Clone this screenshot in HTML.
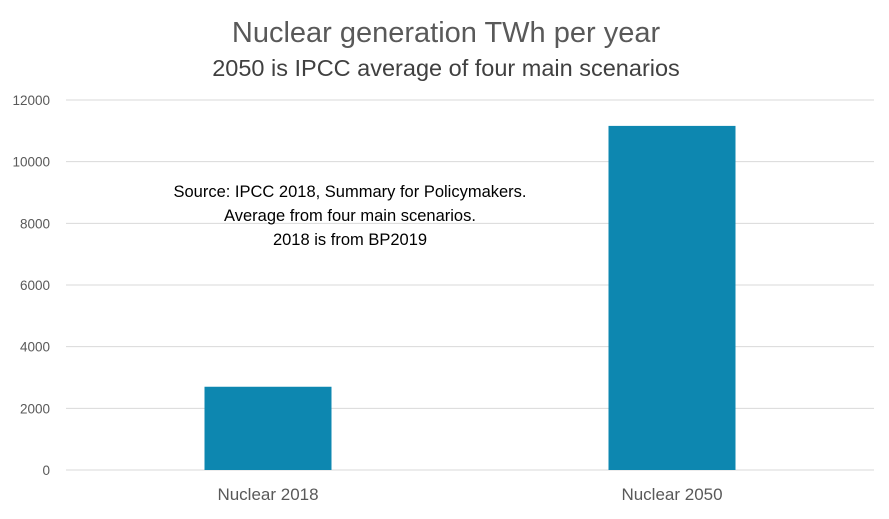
<!DOCTYPE html>
<html><head><meta charset="utf-8"><style>
body{margin:0;background:#fff;font-family:"Liberation Sans",sans-serif;}
svg text{font-family:"Liberation Sans",sans-serif;}
</style></head><body>
<svg width="889" height="514" viewBox="0 0 889 514">
<rect width="889" height="514" fill="#fff"/>
<text x="446" y="42" text-anchor="middle" font-size="29" fill="#595959">Nuclear generation TWh per year</text>
<text x="446" y="76" text-anchor="middle" font-size="23.5" fill="#404040">2050 is IPCC average of four main scenarios</text>
<g id="grid"></g><g id="bars"></g><g id="xlabels"></g>
<text x="350" y="197" text-anchor="middle" font-size="16.5" fill="#000">Source: IPCC 2018, Summary for Policymakers.</text>
<text x="350" y="221" text-anchor="middle" font-size="16.5" fill="#000">Average from four main scenarios.</text>
<text x="350" y="245" text-anchor="middle" font-size="16.5" fill="#000">2018 is from BP2019</text>
</svg>
<script>
const categories=["Nuclear 2018","Nuclear 2050"];
const values=[2700,11160];
const ticks=[0,2000,4000,6000,8000,10000,12000];
const NS="http://www.w3.org/2000/svg";
const x0=66,x1=874,y0=470,y1=100,maxV=12000;
function y(v){return y0-(v/maxV)*(y0-y1);}
const band=(x1-x0)/categories.length;
function xc(i){return x0+band*(i+0.5);}
const grid=document.getElementById('grid');
ticks.forEach(t=>{
 const l=document.createElementNS(NS,'line');
 l.setAttribute('x1',x0);l.setAttribute('x2',x1);l.setAttribute('y1',y(t));l.setAttribute('y2',y(t));
 l.setAttribute('stroke','#d9d9d9');l.setAttribute('stroke-width','1');
 
 
 grid.appendChild(l);
 const tx=document.createElementNS(NS,'text');
 tx.setAttribute('x',50);tx.setAttribute('y',y(t)+5);tx.setAttribute('text-anchor','end');
 tx.setAttribute('font-size','13.5');tx.setAttribute('fill','#595959');
 tx.textContent=t;
 
 
 grid.appendChild(tx);
});
const bars=document.getElementById('bars'),xl=document.getElementById('xlabels');
const bw=127;
categories.forEach((c,i)=>{
 const r=document.createElementNS(NS,'rect');
 r.setAttribute('x',xc(i)-bw/2);r.setAttribute('width',bw);
 r.setAttribute('y',y(values[i]));r.setAttribute('height',y0-y(values[i]));
 r.setAttribute('fill','#0d87b0');
 
 
 bars.appendChild(r);
 const t=document.createElementNS(NS,'text');
 t.setAttribute('x',xc(i));t.setAttribute('y',500);t.setAttribute('text-anchor','middle');
 t.setAttribute('font-size','17');t.setAttribute('fill','#595959');
 t.textContent=c;
 
 
 xl.appendChild(t);
});
</script>
</body></html>
